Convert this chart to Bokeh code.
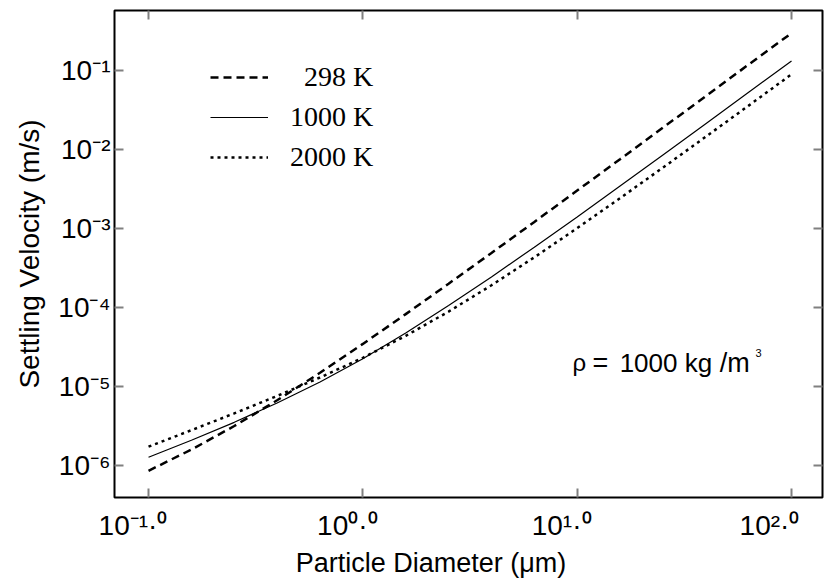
from bokeh.plotting import figure
from bokeh.models import (LogAxis, FixedTicker, Label, Legend, LegendItem,
                          CustomJSTickFormatter, Range1d)
from bokeh.embed import file_html
from bokeh.resources import INLINE

# ---- data ----
diameter_um = [0.1, 0.1585, 0.2512, 0.3981, 0.631, 1.0, 1.585, 2.512, 3.981,
               6.31, 10.0, 15.85, 25.12, 39.81, 63.1, 100.0]
v_298K = [8.58e-7, 1.59e-6, 3.16e-6, 6.69e-6, 1.49e-5, 3.46e-5, 8.24e-5, 2.00e-4,
          4.90e-4, 1.21e-3, 3.02e-3, 7.53e-3, 1.89e-2, 4.72e-2, 0.119, 0.297]
v_1000K = [1.27e-6, 2.09e-6, 3.52e-6, 6.18e-6, 1.14e-5, 2.25e-5, 4.75e-5, 1.06e-4,
           2.44e-4, 5.80e-4, 1.40e-3, 3.44e-3, 8.51e-3, 2.12e-2, 5.29e-2, 0.132]
v_2000K = [1.73e-6, 2.80e-6, 4.57e-6, 7.59e-6, 1.30e-5, 2.31e-5, 4.38e-5, 8.87e-5,
           1.91e-4, 4.32e-4, 1.01e-3, 2.42e-3, 5.89e-3, 1.45e-2, 3.59e-2, 0.0895]
series_labels = ["\u2007298 K", "1000 K", "2000 K"]

x_ticks = [0.1, 1.0, 10.0, 100.0]
x_tick_exps = ["-1.0", "0.0", "1.0", "2.0"]
y_ticks = [1e-6, 1e-5, 1e-4, 1e-3, 1e-2, 1e-1]
y_tick_exps = ["-6", "-5", "-4", "-3", "-2", "-1"]

X_START, X_END = 0.06938, 139.5
Y_START, Y_END = 3.936e-7, 0.5743

SANS = "Liberation Sans"
SERIF = "Liberation Serif"

SUP = str.maketrans("-0123456789.", "\u207b\u2070\u00b9\u00b2\u00b3\u2074\u2075\u2076\u2077\u2078\u2079\u00b7")
NBSP = "\u00a0"
x_tick_labels = ["10" + e.translate(SUP) + NBSP * 4 for e in x_tick_exps]
y_tick_labels = ["10" + e.translate(SUP) for e in y_tick_exps]

p = figure(width=830, height=585, x_axis_type="log", y_axis_type="log",
           x_range=Range1d(X_START, X_END), y_range=Range1d(Y_START, Y_END),
           output_backend="svg", toolbar_location=None,
           min_border_left=114, min_border_right=8, min_border_top=10,
           min_border_bottom=88)
p.xgrid.visible = False
p.ygrid.visible = False
p.outline_line_color = "black"
p.outline_line_width = 2
p.background_fill_color = "white"
p.border_fill_color = "white"

LOOKUP = """
for (let i = 0; i < tvals.length; i++) {
  if (Math.abs(Math.log10(tick) - Math.log10(tvals[i])) < 1e-6) { return tlabs[i]; }
}
return '';
"""


def style_axis(ax, ticks, labels=None):
    ax.ticker = FixedTicker(ticks=ticks, minor_ticks=[])
    ax.major_tick_in = 9
    ax.major_tick_out = 0
    ax.minor_tick_in = 0
    ax.minor_tick_out = 0
    ax.major_tick_line_color = "#808080"
    ax.major_tick_line_width = 2
    ax.axis_line_color = None
    if labels is None:
        ax.major_label_text_font_size = "0px"
        ax.major_label_standoff = 0
        ax.formatter = CustomJSTickFormatter(code="return ''")
    else:
        ax.major_label_text_font = SANS
        ax.major_label_text_font_size = "28px"
        ax.major_label_text_color = "black"
        ax.formatter = CustomJSTickFormatter(args=dict(tvals=ticks, tlabs=labels),
                                             code=LOOKUP)
    ax.axis_label_text_font = SANS
    ax.axis_label_text_font_style = "normal"
    ax.axis_label_text_color = "black"


style_axis(p.xaxis[0], x_ticks, x_tick_labels)
style_axis(p.yaxis[0], y_ticks, y_tick_labels)
p.xaxis[0].major_label_standoff = 12
p.yaxis[0].major_label_standoff = 4

# x title sits left of centre in the reference: trailing no-break spaces shift it
p.xaxis[0].axis_label = "Particle Diameter (\u03bcm)" + NBSP * 10
p.xaxis[0].axis_label_text_font_size = "27px"
p.xaxis[0].axis_label_standoff = 4
p.yaxis[0].axis_label = "Settling Velocity (m/s)"
p.yaxis[0].axis_label_text_font_size = "28px"
p.yaxis[0].axis_label_standoff = 10

top_ax = LogAxis()
style_axis(top_ax, x_ticks)
p.add_layout(top_ax, "above")
right_ax = LogAxis()
style_axis(right_ax, y_ticks)
p.add_layout(right_ax, "right")

# ---- curves ----
r1 = p.line(diameter_um, v_298K, line_color="black", line_width=2.5, line_dash="8 5")
r2 = p.line(diameter_um, v_1000K, line_color="black", line_width=1.2)
r3 = p.line(diameter_um, v_2000K, line_color="black", line_width=2.5, line_dash="3 4")

legend = Legend(items=[LegendItem(label=series_labels[0], renderers=[r1]),
                       LegendItem(label=series_labels[1], renderers=[r2]),
                       LegendItem(label=series_labels[2], renderers=[r3])],
                location=(96, 324), glyph_width=58, glyph_height=20,
                label_height=20, label_standoff=22, spacing=8,
                padding=0, margin=0, border_line_color=None,
                background_fill_alpha=0, label_text_color="black",
                label_text_font=SERIF, label_text_font_size="28px")
p.add_layout(legend)

# ---- annotation: rho = 1000 kg /m^3 ----
ann = [("\u03c1", 9.517, 2.0e-5, "24px"), ("=", 11.8, 2.0e-5, "27px"),
       ("1000 kg", 15.78, 2.0e-5, "26px"), ("/m", 46.2, 2.0e-5, "27px"),
       ("3", 68.0, 2.62e-5, "11px")]
for txt, ax_, ay_, fs in ann:
    p.add_layout(Label(x=ax_, y=ay_, text=txt, text_align="left",
                       text_baseline="alphabetic", text_font=SANS,
                       text_font_size=fs, text_color="black"))

open("out.html", "w").write(file_html(p, INLINE))
